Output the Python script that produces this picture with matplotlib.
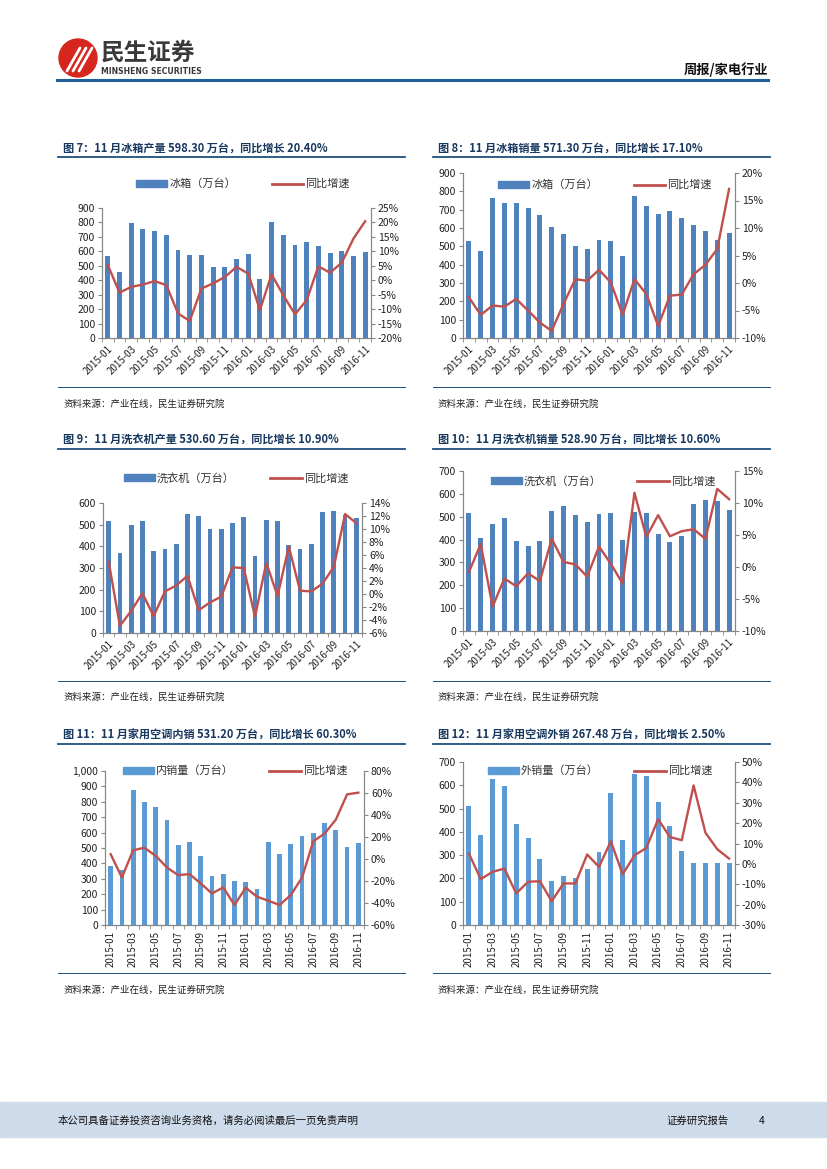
import numpy as np
import matplotlib.pyplot as plt
from matplotlib.patches import Rectangle, Ellipse
from matplotlib.lines import Line2D
from matplotlib.ticker import FuncFormatter

plt.rcParams['font.family'] = ['Noto Sans CJK SC', 'DejaVu Sans']

# ---- data ----
months = ['2015-01', '2015-02', '2015-03', '2015-04', '2015-05', '2015-06',
          '2015-07', '2015-08', '2015-09', '2015-10', '2015-11', '2015-12',
          '2016-01', '2016-02', '2016-03', '2016-04', '2016-05', '2016-06',
          '2016-07', '2016-08', '2016-09', '2016-10', '2016-11']
tick_labels = ['2015-01', '2015-03', '2015-05', '2015-07', '2015-09', '2015-11',
               '2016-01', '2016-03', '2016-05', '2016-07', '2016-09', '2016-11']

# fig 7: fridge production
fridge_prod = [570, 460, 795, 755, 740, 710, 610, 575, 575, 490, 495, 550,
               580, 410, 805, 715, 645, 665, 635, 590, 605, 565, 598.3]
fridge_prod_yoy = [5.2, -4.3, -2.3, -1.5, -0.3, -1.7, -11.5, -14.1, -2.9, -1.1, 1.1, 4.6,
                   2.3, -10.3, 2.0, -5.2, -11.8, -6.9, 4.8, 2.6, 6.1, 14.4, 20.4]
# fig 8: fridge sales
fridge_sales = [530, 472, 765, 735, 735, 710, 672, 607, 565, 500, 488, 537,
                527, 445, 773, 722, 678, 695, 657, 618, 585, 533, 571.3]
fridge_sales_yoy = [-2.6, -5.8, -4.1, -4.3, -2.9, -5.0, -7.2, -8.7, -3.8, 0.7, 0.4, 2.4,
                    0.1, -5.8, 0.7, -2.0, -7.8, -2.3, -2.1, 1.6, 3.3, 6.2, 17.1]
# fig 9: washer production
washer_prod = [515, 370, 498, 518, 378, 387, 410, 548, 540, 480, 478, 510,
               535, 355, 520, 515, 405, 388, 410, 558, 562, 545, 530.6]
washer_prod_yoy = [5.0, -4.9, -2.6, 0.1, -3.4, 0.4, 1.3, 2.8, -2.5, -1.3, -0.4, 4.1,
                   4.0, -3.5, 4.8, -0.3, 7.3, 0.5, 0.4, 1.6, 4.2, 12.3, 10.9]
# fig 10: washer sales
washer_sales = [515, 408, 468, 493, 393, 370, 392, 525, 548, 507, 478, 513,
                515, 398, 522, 516, 425, 390, 415, 555, 572, 568, 528.9]
washer_sales_yoy = [-0.8, 3.6, -6.2, -1.8, -3.0, -1.0, -2.2, 4.4, 0.8, 0.4, -1.5, 3.2,
                    0.5, -2.6, 11.6, 4.7, 8.1, 4.8, 5.6, 5.9, 4.4, 12.2, 10.6]
# fig 11: AC domestic sales
ac_dom = [383, 355, 875, 800, 765, 680, 518, 538, 448, 320, 332, 285,
          282, 235, 542, 462, 528, 575, 600, 660, 615, 505, 531.2]
ac_dom_yoy = [4.4, -16.8, 8.0, 10.2, 2.9, -7.7, -14.7, -13.7, -22.2, -31.3, -25.8, -41.8,
              -26.1, -34.3, -37.9, -41.8, -32.8, -16.8, 16.2, 23.1, 35.8, 58.8, 60.3]
# fig 12: AC export sales
ac_exp = [510, 385, 625, 598, 433, 373, 285, 190, 210, 200, 240, 312,
          567, 363, 650, 642, 527, 427, 317, 265, 265, 266, 267.48]
ac_exp_yoy = [5.1, -7.5, -3.9, -2.3, -14.5, -8.8, -8.5, -18.3, -9.6, -9.6, 4.6, -1.5,
              11.1, -5.1, 4.2, 7.8, 21.9, 13.2, 11.6, 38.5, 15.3, 7.2, 2.6]

W, H = 827, 1169
fig = plt.figure(figsize=(W / 100, H / 100), dpi=100)

RED = '#c0504d'
BLUE1 = '#4f81bd'
BLUE2 = '#5b9bd5'
GRAY = '#868686'
NAVY = '#1f4e79'


def fx(x):
    return x / W


def fy(y):
    return 1 - y / H


def px_axes(x0, y0, x1, y1):
    return fig.add_axes([fx(x0), fy(y1), (x1 - x0) / W, (y1 - y0) / H])


def hline(x0, x1, y, color=NAVY, lw=1.0):
    fig.add_artist(Line2D([fx(x0), fx(x1)], [fy(y), fy(y)], color=color, lw=lw,
                          transform=fig.transFigure))


def draw_chart(box, bars, yoy, color, ymax, ystep, rlim, rstep, label, leg_xy,
               rot, comma=False):
    ax = px_axes(*box)
    x = np.arange(len(months))
    ax.bar(x, bars, width=0.42, color=color, zorder=2)
    ax.set_xlim(-0.5, len(months) - 0.5)
    ax.set_ylim(0, ymax)
    ax.set_yticks(np.arange(0, ymax + 1, ystep))
    if comma:
        ax.yaxis.set_major_formatter(FuncFormatter(lambda v, p: f'{v:,.0f}'))
    ax.set_xticks(np.arange(0, len(months), 2))
    if rot == 45:
        ax.set_xticklabels(tick_labels, rotation=45, ha='right', rotation_mode='anchor')
    else:
        ax.set_xticklabels(tick_labels, rotation=90, ha='center', va='top')
    ax.set_xticks(np.arange(-0.5, len(months), 1), minor=True)
    ax.tick_params(axis='x', which='major', length=0, pad=4, labelsize=7, colors='#222222')
    ax.tick_params(axis='x', which='minor', length=3, color=GRAY)
    ax.tick_params(axis='y', length=3, color=GRAY, labelsize=7.5, labelcolor='#222222', pad=2)

    ax2 = ax.twinx()
    ax2.plot(x, yoy, color=RED, lw=1.7, zorder=3)
    ax2.set_ylim(*rlim)
    ax2.set_yticks(np.arange(rlim[0], rlim[1] + 0.1, rstep))
    ax2.yaxis.set_major_formatter(FuncFormatter(lambda v, p: f'{v:.0f}%'))
    ax2.tick_params(axis='y', length=3, color=GRAY, labelsize=7.5, labelcolor='#222222', pad=2)

    for a in (ax, ax2):
        a.spines['top'].set_visible(False)
        for s in ('left', 'right', 'bottom'):
            a.spines[s].set_color(GRAY)
            a.spines[s].set_linewidth(0.8)
        a.patch.set_visible(False)

    handles = [Rectangle((0, 0), 1, 1, color=color),
               Line2D([0], [0], color=RED, lw=2)]
    fig.legend(handles, [label, '同比增速'], loc='center', ncol=2, frameon=False,
               bbox_to_anchor=(fx(leg_xy[0]), fy(leg_xy[1])), fontsize=8,
               handlelength=2.8, handleheight=0.55, columnspacing=3.2,
               handletextpad=0.2, labelcolor='#333333')
    return ax


# ---- header ----
fig.add_artist(Ellipse((fx(78), fy(58)), 38 / W, 38 / H, color='#d7261e',
                       transform=fig.transFigure))
for k in range(3):
    xs = [fx(67 + 6 * k), fx(80 + 6 * k)]
    ys = [fy(71), fy(48)]
    fig.add_artist(Line2D(xs, ys, color='white', lw=2.0, transform=fig.transFigure,
                          solid_capstyle='round'))
fig.text(fx(101), fy(53), '民生证券', fontsize=17, fontweight='bold', color='#3a3a3a',
         va='center', ha='left')
fig.text(fx(101), fy(71), 'MINSHENG SECURITIES', fontsize=5.6, fontweight='bold',
         color='#3a3a3a', va='center', ha='left', family=['DejaVu Sans'])
fig.text(fx(768), fy(70), '周报/家电行业', fontsize=9.5, fontweight='bold', color='#111111',
         va='center', ha='right')
hline(57, 768, 80, color='#1f5f99', lw=2.2)

# ---- titles / sources ----
titles = [
    (63, 148, '图 7：11 月冰箱产量 598.30 万台，同比增长 20.40%'),
    (438, 148, '图 8：11 月冰箱销量 571.30 万台，同比增长 17.10%'),
    (63, 440, '图 9：11 月洗衣机产量 530.60 万台，同比增长 10.90%'),
    (438, 440, '图 10：11 月洗衣机销量 528.90 万台，同比增长 10.60%'),
    (63, 735, '图 11：11 月家用空调内销 531.20 万台，同比增长 60.30%'),
    (438, 735, '图 12：11 月家用空调外销 267.48 万台，同比增长 2.50%'),
]
for tx, ty, t in titles:
    fig.text(fx(tx), fy(ty), t, fontsize=8, fontweight='bold', color='#17375e',
             va='center', ha='left')
for ty in (157, 449, 744):
    hline(58, 405, ty, lw=1.3)
    hline(433, 770, ty, lw=1.3)
for ty in (387, 681, 973):
    hline(58, 405, ty, lw=0.7)
    hline(433, 770, ty, lw=0.7)
for ty in (404, 697, 990):
    fig.text(fx(63), fy(ty), '资料来源：产业在线，民生证券研究院', fontsize=6.8,
             color='#222222', va='center', ha='left')
    fig.text(fx(438), fy(ty), '资料来源：产业在线，民生证券研究院', fontsize=6.8,
             color='#222222', va='center', ha='left')

# ---- charts ----
draw_chart((102, 208, 371, 338), fridge_prod, fridge_prod_yoy, BLUE1, 900, 100,
           (-20, 25), 5, '冰箱（万台）', (243, 184), 45)
draw_chart((463, 173, 735, 338), fridge_sales, fridge_sales_yoy, BLUE1, 900, 100,
           (-10, 20), 5, '冰箱（万台）', (605, 185), 45)
draw_chart((103, 503, 362, 633), washer_prod, washer_prod_yoy, BLUE1, 600, 100,
           (-6, 14), 2, '洗衣机（万台）', (236, 478), 45)
draw_chart((463, 471, 735, 631), washer_sales, washer_sales_yoy, BLUE1, 700, 100,
           (-10, 15), 5, '洗衣机（万台）', (603, 481), 45)
draw_chart((105, 771, 364, 925), ac_dom, ac_dom_yoy, BLUE2, 1000, 100,
           (-60, 80), 20, '内销量（万台）', (235, 771), 90, comma=True)
draw_chart((463, 762, 735, 925), ac_exp, ac_exp_yoy, BLUE2, 700, 100,
           (-30, 50), 10, '外销量（万台）', (600, 771), 90)

# ---- footer ----
fig.add_artist(Rectangle((0, fy(1137)), 1, (1137 - 1102) / H, color='#cddbea',
                         transform=fig.transFigure, zorder=0))
fig.text(fx(58), fy(1121), '本公司具备证券投资咨询业务资格，请务必阅读最后一页免责声明',
         fontsize=7.5, color='#111111', va='center', ha='left')
fig.text(fx(666), fy(1121), '证券研究报告', fontsize=7.5, color='#111111', va='center', ha='left')
fig.text(fx(765), fy(1121), '4', fontsize=7.5, color='#111111', va='center', ha='right')

fig.savefig('out.png', dpi=100)
